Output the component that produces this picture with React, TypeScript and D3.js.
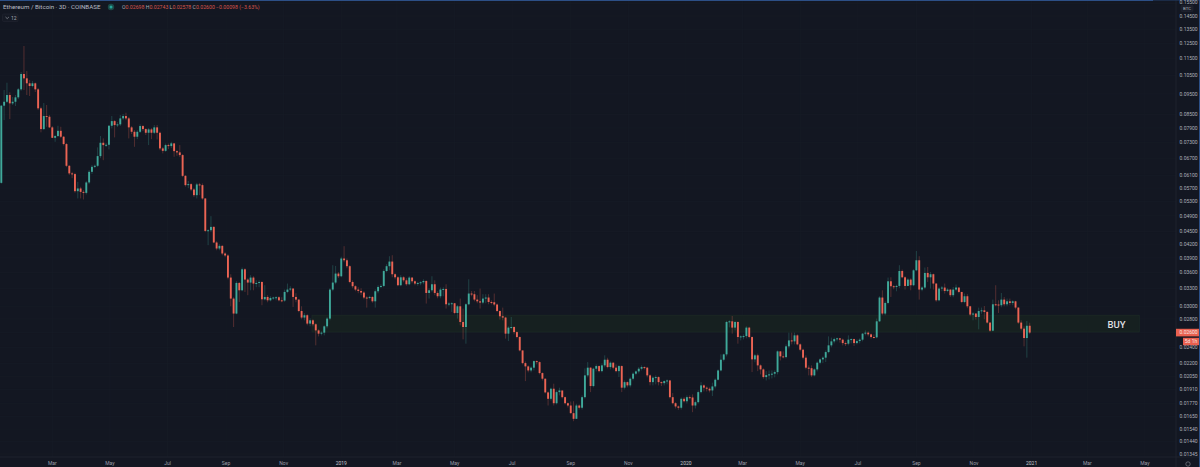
import React, { useRef, useEffect } from "react";
import * as d3 from "d3";

// ETH/BTC, 3D candles, prices in units of 0.00001 BTC
const firstOpen = 5861;
const closes = [
  8911,9103,9442,9024,9103,9324,9737,10583,10337,10062,
  9915,10062,9737,8783,7848,8424,8392,7921,7485,7558,
  7775,7529,7235,6430,6170,6147,5602,5685,5581,5551,
  5874,6223,6394,6430,6777,7286,7195,7207,7991,8195,
  8021,8051,8317,8424,8317,7921,7734,7529,7734,7978,
  7848,7693,7835,7693,7921,7693,7066,6974,7195,7156,
  7262,6963,6915,6815,6089,5789,5820,5654,5482,5811,
  5789,5385,4515,4532,4615,4240,4104,4163,3994,3951,
  3505,3127,2883,3404,3271,3666,3467,3411,3505,3393,
  3404,3422,3115,3155,3098,3138,3145,3150,3098,3093,
  3242,3284,3302,3155,3110,2923,2821,2857,2730,2779,
  2720,2631,2585,2599,2690,2805,3284,3411,3582,3530,
  3887,3850,3728,3422,3344,3284,3259,3231,3145,3138,
  3155,3081,3254,3331,3349,3632,3728,3823,3569,3510,
  3362,3510,3453,3380,3505,3435,3393,3404,3417,3440,
  3224,3271,3380,3224,3167,3284,3295,3032,3044,3049,
  2892,2999,2754,2680,3032,3214,3202,3110,3081,3060,
  3127,3145,3070,3065,3028,2923,2841,2821,2585,2671,
  2680,2607,2538,2360,2203,2164,2117,2149,2227,2215,
  2087,2024,1879,1815,1917,1772,1882,1899,1831,1772,
  1750,1679,1628,1750,1729,1831,2061,2149,1945,2137,
  2168,2109,2176,2244,2156,2208,2149,2109,2168,1928,
  1987,1952,2024,2080,2106,2137,2156,2149,2061,1987,
  2035,2042,1987,1976,1998,2005,1831,1772,1741,1729,
  1815,1791,1831,1828,1750,1782,1882,1952,1928,1917,
  1899,1941,2013,2117,2244,2310,2754,2764,2671,2754,
  2538,2547,2551,2671,2538,2248,2298,2176,2129,2042,
  2064,2072,2080,2098,2348,2285,2276,2413,2492,2479,
  2561,2439,2369,2269,2149,2143,2061,2129,2208,2248,
  2269,2339,2426,2479,2510,2520,2502,2456,2448,2502,
  2510,2456,2483,2502,2585,2599,2575,2538,2534,2764,
  3145,2883,3054,3435,3344,3331,3349,3632,3510,3349,
  3467,3362,3646,3850,3284,3320,3594,3510,3569,3393,
  3098,3302,3320,3259,3284,3185,3284,3320,3242,3070,
  3167,2999,2867,2883,2830,2923,2934,2908,2745,2627,
  3032,3028,3016,3110,3032,3081,3054,3081,2978,2745,
  2656,2524,2698,2600,
];
const highs = [
  8945,9699,10094,9581,9340,9442,9807,10697,12323,10754,
  10240,10186,10105,9807,8862,9039,8943,8470,7978,7599,
  7991,7947,7558,7274,6454,6223,6190,5893,5738,5632,
  5915,6279,6454,6472,7105,7558,7461,7274,8021,8424,
  8239,8152,8470,8516,8576,8378,7978,7804,7804,8051,
  8021,7878,7891,7891,8021,8021,7743,7117,7254,7254,
  7325,7262,7000,7195,6852,6112,5924,5852,5695,5861,
  5861,5842,5394,4557,4892,4632,4269,4201,4179,4022,
  3979,3569,3150,3435,3422,3701,3687,3492,3550,3530,
  3453,3453,3435,3362,3185,3167,3158,3167,3167,3150,
  3284,3393,3344,3308,3219,3115,2999,2888,2872,2810,
  2795,2735,2646,2617,2705,2826,3308,3748,3734,3613,
  3925,4156,3887,3748,3453,3362,3326,3308,3254,3167,
  3176,3167,3289,3362,3380,3666,3769,3936,3957,3588,
  3530,3550,3530,3492,3530,3510,3453,3426,3435,3472,
  3453,3308,3530,3453,3254,3320,3326,3380,3065,3065,
  3054,3021,3127,2962,3049,3472,3259,3259,3185,3302,
  3202,3202,3202,3098,3214,3044,2934,2978,2833,2690,
  2830,2690,2617,2547,2360,2223,2176,2164,2235,2235,
  2223,2095,2027,1889,1928,1970,1899,1928,1892,1838,
  1779,1788,1791,1766,1760,1849,2141,2215,2153,2149,
  2188,2176,2200,2298,2268,2223,2212,2188,2182,2176,
  2005,1994,2039,2095,2117,2156,2176,2164,2158,2072,
  2050,2061,2050,1994,2005,2016,2011,1872,1782,1750,
  1828,1831,1849,1849,1859,1798,1899,1987,1963,1941,
  1931,1981,2027,2129,2310,2319,2772,2779,2845,2772,
  2764,2561,2575,2690,2683,2547,2316,2319,2188,2141,
  2109,2117,2117,2117,2360,2348,2348,2439,2599,2599,
  2599,2575,2452,2382,2298,2176,2176,2141,2223,2260,
  2285,2360,2547,2530,2530,2530,2527,2516,2479,2561,
  2520,2516,2506,2520,2593,2631,2617,2589,2575,2805,
  3167,3271,3081,3505,3510,3362,3371,3748,3660,3530,
  3492,3492,3666,4050,3936,3344,3701,3713,3613,3582,
  3398,3326,3349,3393,3308,3289,3331,3375,3320,3242,
  3214,3202,3008,2903,2892,2978,2978,3004,2923,2749,
  3110,3362,3098,3224,3155,3127,3127,3098,3090,2983,
  2779,2690,2769,2743,
];
const lows = [
  5836,8239,9039,8285,8943,8894,9237,9663,9699,9442,
  9391,9845,9597,8700,7710,7804,7947,7891,7473,7325,
  7514,7473,7177,6384,6114,6012,5557,5385,5385,5355,
  5503,5820,6147,6349,6384,6703,6629,7117,7027,7878,
  7502,7934,7978,8239,8239,7461,7640,7129,7432,7681,
  7763,7599,7195,7432,7640,7420,7000,6878,6937,7039,
  7078,6751,6788,6740,6046,5742,5695,5602,5424,5385,
  5482,5349,4484,4179,4484,4224,4065,4065,3957,3915,
  3472,2999,2680,2872,3070,3254,3242,3185,3271,3271,
  3326,3326,3016,3098,3065,3081,3106,3098,3081,3065,
  3073,3219,3254,2988,3065,2903,2795,2779,2705,2690,
  2690,2426,2547,2561,2561,2661,2779,3254,3380,3497,
  3511,3809,3687,3398,3308,3254,3219,3185,3115,2978,
  3115,3057,2978,3219,3308,3326,3607,3646,3510,3472,
  3344,3344,3417,3353,3362,3398,3362,3353,3362,3380,
  3044,3127,3237,3185,3132,3132,3167,2962,2999,2908,
  2872,2805,2705,2506,2448,3016,3167,3081,3049,2962,
  3032,3049,3032,3032,2999,2903,2790,2779,2516,2483,
  2646,2575,2520,2348,2188,1998,2095,2095,2117,2188,
  2072,2005,1869,1750,1798,1750,1760,1849,1818,1760,
  1731,1673,1607,1628,1712,1712,1818,2039,1882,1931,
  2106,2095,2095,2153,2141,2129,2129,2095,2042,1882,
  1910,1931,1931,2005,2061,2083,2117,2129,2039,1952,
  1952,1963,1952,1945,1952,1963,1818,1760,1722,1710,
  1712,1779,1769,1808,1688,1722,1769,1869,1889,1889,
  1879,1842,1920,2005,2106,2223,2285,2675,2585,2631,
  2448,2492,2506,2520,2520,2098,2212,2109,2072,2024,
  2005,2016,2027,2039,2072,2235,2260,2260,2386,2439,
  2439,2426,2348,2248,2129,2061,2042,2050,2106,2188,
  2203,2215,2323,2400,2452,2479,2462,2426,2417,2426,
  2452,2417,2439,2452,2479,2561,2547,2516,2520,2520,
  2754,2857,2857,3032,3155,3289,3254,3308,3492,3284,
  3344,3271,3344,3627,3110,3254,3289,3422,3302,3284,
  3073,3081,3254,3214,3237,3155,3150,3254,3219,3049,
  3049,2967,2841,2779,2790,2646,2880,2795,2730,2610,
  2617,2999,2892,2983,2999,2999,3016,3016,2950,2727,
  2631,2413,2269,2578,
];

const priceTicks = [
  0.155, 0.145, 0.135, 0.125, 0.115, 0.105, 0.095, 0.085, 0.079, 0.073, 0.067,
  0.061, 0.057, 0.053, 0.049, 0.045, 0.042, 0.039, 0.036, 0.033, 0.03, 0.028,
  0.024, 0.022, 0.0205, 0.0191, 0.0177, 0.0165, 0.0154, 0.0144, 0.01345,
];
const timeTickDates = [
  "2018-03-01", "2018-05-01", "2018-07-01", "2018-09-01", "2018-11-01", "2019-01-01",
  "2019-03-01", "2019-05-01", "2019-07-01", "2019-09-01", "2019-11-01", "2020-01-01",
  "2020-03-01", "2020-05-01", "2020-07-01", "2020-09-01", "2020-11-01", "2021-01-01",
  "2021-03-01", "2021-05-01",
];
const timeTickLabels = [
  "Mar", "May", "Jul", "Sep", "Nov", "2019", "Mar", "May", "Jul", "Sep", "Nov", "2020",
  "Mar", "May", "Jul", "Sep", "Nov", "2021", "Mar", "May",
];

const startDate = "2018-01-06";
const lastPrice = 0.026;
const zoneTop = 0.02857;
const zoneBottom = 0.02608;
const zoneStart = "2018-12-01";
const zoneEnd = "2021-04-25";

const WIDTH = 1200;
const HEIGHT = 467;
const UP = "#3fa99a";
const DOWN = "#ec6454";
const BG = "#131722";
const FONT = "Roboto, 'Noto Sans', sans-serif";
const parse = d3.utcParse("%Y-%m-%d");

const App: React.FC = () => {
  const ref = useRef<SVGSVGElement | null>(null);

  useEffect(() => {
    document.body.style.margin = "0";
    document.body.style.background = BG;
    const svg = d3.select(ref.current);
    svg.selectAll("*").remove();

    const axisX = 1176;
    const axisY = 457;
    const start = parse(startDate) as Date;
    const dateAt = (i: number) => d3.utcDay.offset(start, i * 3);

    const x = d3
      .scaleUtc()
      .domain([start, dateAt(closes.length - 1)])
      .range([1.3, 1029.7]);
    const y = d3.scaleLog().domain([0.145, 0.01345]).range([16, 454]);

    svg.append("rect").attr("width", WIDTH).attr("height", HEIGHT).attr("fill", BG);

    // Grid
    const grid = svg.append("g").attr("stroke", "#181c27").attr("stroke-width", 0.6);
    timeTickDates.forEach((d) => {
      const px = x(parse(d) as Date);
      grid.append("line").attr("x1", px).attr("x2", px).attr("y1", 0).attr("y2", axisY);
    });
    [...priceTicks, lastPrice].forEach((p) => {
      grid.append("line").attr("x1", 0).attr("x2", axisX).attr("y1", y(p)).attr("y2", y(p));
    });

    // Buy zone
    const zoneX = x(parse(zoneStart) as Date);
    svg
      .append("rect")
      .attr("x", zoneX)
      .attr("y", y(zoneTop))
      .attr("width", x(parse(zoneEnd) as Date) - zoneX)
      .attr("height", y(zoneBottom) - y(zoneTop))
      .attr("fill", "#162020")
      .attr("stroke", "#1c2b26")
      .attr("stroke-width", 0.7);
    svg
      .append("text")
      .attr("x", 1116.5)
      .attr("y", 328.3)
      .attr("text-anchor", "middle")
      .attr("fill", "#dedfe1")
      .attr("font-family", FONT)
      .attr("font-weight", 500)
      .attr("font-size", 9.5)
      .text("BUY");

    // Candles
    const candles = closes.map((c, i) => ({
      date: dateAt(i),
      open: (i === 0 ? firstOpen : closes[i - 1]) * 1e-5,
      close: c * 1e-5,
      high: highs[i] * 1e-5,
      low: lows[i] * 1e-5,
    }));
    const g = svg.append("g");
    const candle = g
      .selectAll("g")
      .data(candles)
      .join("g")
      .attr("fill", (d) => (d.close >= d.open ? UP : DOWN))
      .attr("stroke", (d) => (d.close >= d.open ? UP : DOWN));
    candle
      .append("line")
      .attr("x1", (d) => x(d.date))
      .attr("x2", (d) => x(d.date))
      .attr("y1", (d) => y(d.high))
      .attr("y2", (d) => y(d.low))
      .attr("stroke-width", 0.5)
      .attr("stroke-opacity", 0.6);
    candle
      .append("rect")
      .attr("x", (d) => x(d.date) - 0.95)
      .attr("width", 1.9)
      .attr("y", (d) => Math.min(y(d.open), y(d.close)))
      .attr("height", (d) => Math.max(1, Math.abs(y(d.open) - y(d.close))))
      .attr("stroke", "none");

    // Axis panels
    svg.append("line").attr("x1", axisX).attr("x2", axisX).attr("y1", 0).attr("y2", HEIGHT).attr("stroke", "#222632").attr("stroke-width", 0.7);
    svg.append("line").attr("x1", 0).attr("x2", WIDTH).attr("y1", axisY).attr("y2", axisY).attr("stroke", "#222632").attr("stroke-width", 0.7);
    svg.append("rect").attr("x", 0).attr("y", 0).attr("width", 1153).attr("height", 1).attr("fill", "#2c4f86");
    svg.append("rect").attr("x", 1153).attr("y", 0).attr("width", 47).attr("height", 0.6).attr("fill", "#223a60");
    svg.append("rect").attr("x", 1199).attr("y", 0).attr("width", 1).attr("height", HEIGHT).attr("fill", "#2c4f86");

    const text = (
      px: number,
      py: number,
      value: string,
      size: number,
      fill: string,
      anchor = "start"
    ) =>
      svg
        .append("text")
        .attr("x", px)
        .attr("y", py)
        .attr("dy", "0.35em")
        .attr("text-anchor", anchor)
        .attr("font-family", FONT)
        .attr("font-size", size)
        .attr("fill", fill)
        .text(value);

    // Top tick sits just above the currency tag
    priceTicks.forEach((p, i) => text(1179.5, i === 0 ? 2.6 : y(p), p.toFixed(5), 5, "#aeb1ba"));
    timeTickDates.forEach((d, i) =>
      text(x(parse(d) as Date), 463, timeTickLabels[i], 5, i % 6 === 5 ? "#c4c6cd" : "#9a9da7", "middle")
    );

    // Currency tag
    svg.append("rect").attr("x", 1181).attr("y", 5.4).attr("width", 12).attr("height", 6).attr("rx", 1).attr("fill", "#1b1f2b").attr("stroke", "#2a2e39").attr("stroke-width", 0.4);
    text(1187, 8.4, "BTC", 4.3, "#aeb1ba", "middle");

    // Last price and countdown
    svg.append("rect").attr("x", axisX).attr("y", y(lastPrice) - 3.8).attr("width", 23).attr("height", 7.6).attr("fill", "#e9604f");
    text(1179.5, y(lastPrice), lastPrice.toFixed(5), 5, "#f6e4e2");
    svg.append("rect").attr("x", 1183).attr("y", 337.8).attr("width", 16).attr("height", 7.4).attr("fill", "#e9604f");
    text(1191, 341.5, "5d 1h", 5, "#f6e4e2", "middle");

    // Gear
    svg.append("circle").attr("cx", 1188).attr("cy", 464).attr("r", 2.2).attr("fill", "none").attr("stroke", "#8a8d97").attr("stroke-width", 0.6);

    // Header
    text(3, 7.3, "Ethereum / Bitcoin · 3D · COINBASE", 6.2, "#b9bcc4");
    svg.append("circle").attr("cx", 111).attr("cy", 7).attr("r", 3.2).attr("fill", "#1b4a48");
    svg.append("circle").attr("cx", 111).attr("cy", 7).attr("r", 1.5).attr("fill", "#26a69a");
    const legend = svg
      .append("text")
      .attr("x", 122)
      .attr("y", 7.5)
      .attr("dy", "0.35em")
      .attr("font-family", FONT)
      .attr("font-size", 5.2);
    const legendParts = [
      ["O", "0.02698 "], ["H", "0.02743 "], ["L", "0.02578 "], ["C", "0.02600 "],
    ];
    legendParts.forEach(([k, v]) => {
      legend.append("tspan").attr("fill", "#a8abb4").text(k);
      legend.append("tspan").attr("fill", "#d9564b").text(v);
    });
    legend.append("tspan").attr("fill", "#d9564b").text(" −0.00098 (−3.63%)");

    // Collapsed indicators button
    svg.append("rect").attr("x", 2.5).attr("y", 14).attr("width", 15.5).attr("height", 7.6).attr("rx", 1.2).attr("fill", "#161a25").attr("stroke", "#232733").attr("stroke-width", 0.6);
    svg.append("path").attr("d", "M5.5 17 L7.2 18.6 L8.9 17").attr("fill", "none").attr("stroke", "#a8abb4").attr("stroke-width", 0.6);
    text(11, 17.8, "12", 5, "#a8abb4");
  }, []);

  return (
    <svg
      ref={ref}
      width={WIDTH}
      height={HEIGHT}
      style={{ position: "fixed", top: 0, left: 0, display: "block" }}
    />
  );
};

export default App;
